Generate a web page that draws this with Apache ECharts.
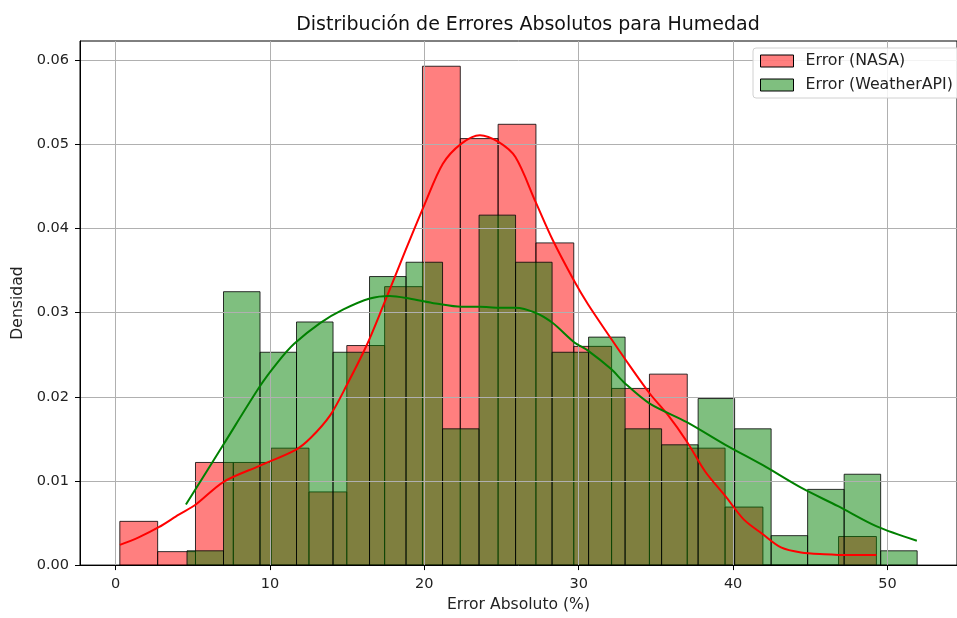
<!DOCTYPE html>
<html>
<head>
<meta charset="utf-8">
<script src="https://cdn.jsdelivr.net/npm/echarts@6/dist/echarts.min.js"></script>
<style>html, body {margin: 0; padding: 0; background: #fff;} #chart {width: 957px; height: 618px;}</style>
</head>
<body>
<div id="chart"></div>
<script>
// histogram bins (density)
var nasaStart = 0.28, nasaWidth = 2.45;
var nasaDensity = [0.0052, 0.0016, 0.0122, 0.0122, 0.0139, 0.0087, 0.0261, 0.0331, 0.0593, 0.0507,
    0.0524, 0.0383, 0.0260, 0.0210, 0.0227, 0.0139, 0.0069, 0, 0, 0.0034];
var weatherStart = 4.63, weatherWidth = 2.3645;
var weatherDensity = [0.0017, 0.0325, 0.0253, 0.0289, 0.0253, 0.0343, 0.0360, 0.0162, 0.0416, 0.0360,
    0.0253, 0.0271, 0.0162, 0.0143, 0.0198, 0.0162, 0.0035, 0.0090, 0.0108, 0.0017];

// kde curves
var nasaKdeX = [0.28, 1.5, 2.8, 4.1, 5.2, 7.0, 9.33, 11.67, 12.63, 13.9, 14.98, 16.26, 17.33, 18.8, 20.0, 21.2,
    22.4, 23.6, 24.8, 25.9, 27.2, 28.3, 29.7, 30.6, 32.1, 33.0, 34.6, 35.8, 37.0, 38.2, 39.5, 40.7, 41.9, 43.1,
    44.4, 45.9, 47.5, 49.28];
var nasaKdeY = [0.0024, 0.0033, 0.0045, 0.0060, 0.0072, 0.0099, 0.0118, 0.0137, 0.0151, 0.0178, 0.0214, 0.0261,
    0.0308, 0.0375, 0.0428, 0.0477, 0.0501, 0.0511, 0.0503, 0.0485, 0.0432, 0.0387, 0.0338, 0.0310, 0.0269,
    0.0245, 0.0204, 0.0178, 0.0147, 0.0111, 0.0082, 0.0054, 0.0037, 0.0021, 0.0015, 0.0013, 0.0012, 0.0012];
var weatherKdeX = [4.56, 6.98, 9.33, 10.5, 11.57, 13.27, 14.76, 16.47, 17.75, 19.03, 20.74, 22.4, 23.6, 24.8,
    25.9, 27.2, 28.3, 29.7, 30.6, 32.1, 33.0, 34.6, 37.0, 39.5, 41.9, 44.4, 46.8, 49.3, 51.9];
var weatherKdeY = [0.0072, 0.0143, 0.0212, 0.0241, 0.0263, 0.0288, 0.0304, 0.0317, 0.0320, 0.0317, 0.0311,
    0.0307, 0.0307, 0.0306, 0.0306, 0.0300, 0.0288, 0.0265, 0.0255, 0.0233, 0.0216, 0.0192, 0.0170, 0.0143,
    0.0119, 0.0092, 0.0070, 0.0046, 0.0029];

var xTicks = [0, 10, 20, 30, 40, 50];
var yTicks = [0, 0.01, 0.02, 0.03, 0.04, 0.05, 0.06];

var font = 'DejaVu Sans';
var nasaFill = 'rgba(255,0,0,0.5)', weatherFill = 'rgba(0,128,0,0.5)';

function zip(xs, ys) {return xs.map(function(x, i) {return [x, ys[i]]})}

function histSeries(name, start, width, vals, fill) {
    var data = vals.map(function(v, i) {return [start + i*width, start + (i+1)*width, v]});
    return {
        type: 'custom', name: name, z: 1, data: data, encode: {x: [0, 1], y: 2},
        itemStyle: {color: fill, borderColor: '#000', borderWidth: 1},
        renderItem: function(params, api) {
            var p0 = api.coord([api.value(0), api.value(2)]);
            var p1 = api.coord([api.value(1), 0]);
            return {type: 'rect', shape: {x: p0[0], y: p0[1], width: p1[0] - p0[0], height: p1[1] - p0[1]},
                style: {fill: fill, stroke: 'rgba(0,0,0,0.8)', lineWidth: 1}};
        },
    };
}

function kdeSeries(name, xs, ys, color) {
    return {type: 'line', name: name, z: 5, data: zip(xs, ys), smooth: 0.3, showSymbol: false,
        lineStyle: {color: color, width: 2}, itemStyle: {color: color}, silent: true};
}

var chart = echarts.init(document.getElementById('chart'));
chart.setOption({
    animation: false,
    textStyle: {fontFamily: font},
    title: {text: 'Distribución de Errores Absolutos para Humedad', left: 523, textAlign: 'center', top: 11,
        textStyle: {fontFamily: font, fontSize: 19, fontWeight: 'normal', color: '#111'}},
    legend: {
        orient: 'vertical', left: 753, top: 48, padding: [5, 8, 5, 7], itemWidth: 33, itemHeight: 12, itemGap: 8,
        backgroundColor: 'rgba(255,255,255,0.85)', borderColor: '#d0d0d0', borderWidth: 1, borderRadius: 3,
        textStyle: {fontFamily: font, fontSize: 15.8, lineHeight: 16, color: '#222', padding: [0, 0, 0, 7]},
        data: [
            {name: 'Error (NASA)', icon: 'rect', itemStyle: {color: nasaFill, borderColor: '#000', borderWidth: 1}},
            {name: 'Error (WeatherAPI)', icon: 'rect', itemStyle: {color: weatherFill, borderColor: '#000', borderWidth: 1}},
        ],
    },
    grid: {left: 80, top: 41, bottom: 50, right: -10, show: true, borderColor: '#000', borderWidth: 1},
    xAxis: {
        type: 'value', min: -2.3, max: 54.5, z: 3,
        name: 'Error Absoluto (%)', nameLocation: 'middle', nameGap: 31,
        nameTextStyle: {fontFamily: font, fontSize: 15.6, color: '#222'},
        axisLine: {show: true, onZero: false, lineStyle: {color: '#000', width: 1}},
        axisTick: {show: true, length: 5, customValues: xTicks, lineStyle: {color: '#000'}},
        axisLabel: {customValues: xTicks, margin: 12, fontFamily: font, fontSize: 14.5, color: '#222'},
        splitLine: {show: true, lineStyle: {color: '#b0b0b0', width: 1}},
    },
    yAxis: {
        type: 'value', min: 0, max: 0.0623, z: 3,
        name: 'Densidad', nameLocation: 'middle', nameGap: 53, nameRotate: 90,
        nameTextStyle: {fontFamily: font, fontSize: 15.6, color: '#222'},
        axisLine: {show: true, onZero: false, lineStyle: {color: '#000', width: 1}},
        axisTick: {show: true, length: 5, customValues: yTicks, lineStyle: {color: '#000'}},
        axisLabel: {customValues: yTicks, margin: 11, fontFamily: font, fontSize: 14.5, color: '#222',
            formatter: function(v) {return v.toFixed(2)}},
        splitLine: {show: true, lineStyle: {color: '#b0b0b0', width: 1}},
    },
    series: [
        histSeries('Error (NASA)', nasaStart, nasaWidth, nasaDensity, nasaFill),
        histSeries('Error (WeatherAPI)', weatherStart, weatherWidth, weatherDensity, weatherFill),
        kdeSeries('kde NASA', nasaKdeX, nasaKdeY, '#ff0000'),
        kdeSeries('kde WeatherAPI', weatherKdeX, weatherKdeY, '#008000'),
    ],
});
</script>
</body>
</html>
